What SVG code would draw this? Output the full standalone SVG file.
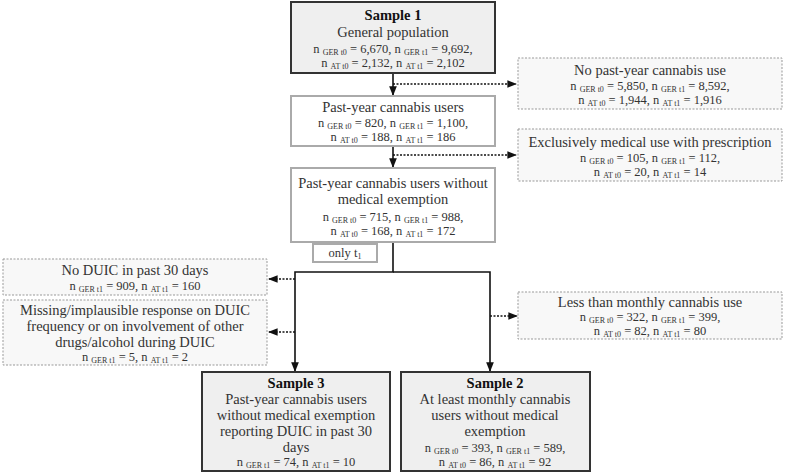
<svg xmlns="http://www.w3.org/2000/svg" width="785" height="474" viewBox="0 0 785 474" font-family="Liberation Serif, Tinos, Times New Roman, serif">
<defs>
<style>
text{font-family:Liberation Serif, Tinos, Times New Roman, serif;fill:#333;text-anchor:middle}
.t{font-size:14.5px}
.b{font-size:14.5px;font-weight:bold;fill:#111}
.n{font-size:12.5px}
.s{font-size:8px}
.main{fill:#efefef;stroke:#333;stroke-width:2}
.mid{fill:#fff;stroke:#aaa;stroke-width:2}
.dot{fill:#f8f8f8;stroke:#999;stroke-width:1;stroke-dasharray:2,1.5}
.ln{fill:none;stroke:#111;stroke-width:1.6}
.dl{fill:none;stroke:#111;stroke-width:1.6;stroke-dasharray:2,1.5}
</style>
<marker id="a" viewBox="0 0 10 10" refX="9" refY="5" markerWidth="6" markerHeight="6" orient="auto"><path d="M0,1L10,5L0,9z" fill="#111"/></marker>
</defs>
<g id="connectors">
<path class="ln" d="M393,73V95" marker-end="url(#a)"/>
<path class="dl" d="M393,84H516" marker-end="url(#a)"/>
<path class="ln" d="M393,146V167" marker-end="url(#a)"/>
<path class="dl" d="M393,155H516" marker-end="url(#a)"/>
<path class="ln" d="M393,242V272H295V371" marker-end="url(#a)"/>
<path class="ln" d="M393,272H490V371" marker-end="url(#a)"/>
<path class="dl" d="M295,279H269" marker-end="url(#a)"/>
<path class="dl" d="M295,332H269" marker-end="url(#a)"/>
<path class="dl" d="M490,316H517" marker-end="url(#a)"/>
</g>
<g id="s1"><rect class="main" x="291" y="2" width="204" height="71"/>
<text class="b" x="393" y="20">Sample 1</text>
<text class="t" x="393" y="37">General population</text>
<text class="n" x="393" y="53">n <tspan class="s" dy="2">GER t0</tspan><tspan dy="-2"> = 6,670, n </tspan><tspan class="s" dy="2">GER t1</tspan><tspan dy="-2"> = 9,692,</tspan></text>
<text class="n" x="393" y="67">n <tspan class="s" dy="2">AT t0</tspan><tspan dy="-2"> = 2,132, n </tspan><tspan class="s" dy="2">AT t1</tspan><tspan dy="-2"> = 2,102</tspan></text></g>
<g id="pyu"><rect class="mid" x="291" y="96" width="204" height="50"/>
<text class="t" x="393" y="112">Past-year cannabis users</text>
<text class="n" x="393" y="127">n <tspan class="s" dy="2">GER t0</tspan><tspan dy="-2"> = 820, n </tspan><tspan class="s" dy="2">GER t1</tspan><tspan dy="-2"> = 1,100,</tspan></text>
<text class="n" x="393" y="141">n <tspan class="s" dy="2">AT t0</tspan><tspan dy="-2"> = 188, n </tspan><tspan class="s" dy="2">AT t1</tspan><tspan dy="-2"> = 186</tspan></text></g>
<g id="pyuw"><rect class="mid" x="291" y="168" width="204" height="74"/>
<text class="t" x="393" y="188">Past-year cannabis users without</text>
<text class="t" x="393" y="204">medical exemption</text>
<text class="n" x="393" y="221">n <tspan class="s" dy="2">GER t0</tspan><tspan dy="-2"> = 715, n </tspan><tspan class="s" dy="2">GER t1</tspan><tspan dy="-2"> = 988,</tspan></text>
<text class="n" x="393" y="235">n <tspan class="s" dy="2">AT t0</tspan><tspan dy="-2"> = 168, n </tspan><tspan class="s" dy="2">AT t1</tspan><tspan dy="-2"> = 172</tspan></text></g>
<g id="nouse"><rect class="dot" x="518" y="58" width="264" height="51"/>
<text class="t" x="650" y="75">No past-year cannabis use</text>
<text class="n" x="650" y="90">n <tspan class="s" dy="2">GER t0</tspan><tspan dy="-2"> = 5,850, n </tspan><tspan class="s" dy="2">GER t1</tspan><tspan dy="-2"> = 8,592,</tspan></text>
<text class="n" x="650" y="104">n <tspan class="s" dy="2">AT t0</tspan><tspan dy="-2"> = 1,944, n </tspan><tspan class="s" dy="2">AT t1</tspan><tspan dy="-2"> = 1,916</tspan></text></g>
<g id="med"><rect class="dot" x="518" y="129" width="264" height="52"/>
<text class="t" x="650" y="147">Exclusively medical use with prescription</text>
<text class="n" x="650" y="162">n <tspan class="s" dy="2">GER t0</tspan><tspan dy="-2"> = 105, n </tspan><tspan class="s" dy="2">GER t1</tspan><tspan dy="-2"> = 112,</tspan></text>
<text class="n" x="650" y="176">n <tspan class="s" dy="2">AT t0</tspan><tspan dy="-2"> = 20, n </tspan><tspan class="s" dy="2">AT t1</tspan><tspan dy="-2"> = 14</tspan></text></g>
<g id="only"><rect class="mid" x="313" y="244" width="64" height="18" stroke-width="1.5"/>
<text class="n" x="345" y="257">only t<tspan class="s" dy="2">1</tspan></text></g>
<g id="noduic"><rect class="dot" x="3" y="259" width="264" height="36"/>
<text class="t" x="135" y="275">No DUIC in past 30 days</text>
<text class="n" x="135" y="290">n <tspan class="s" dy="2">GER t1</tspan><tspan dy="-2"> = 909, n </tspan><tspan class="s" dy="2">AT t1</tspan><tspan dy="-2"> = 160</tspan></text></g>
<g id="missing"><rect class="dot" x="3" y="300" width="264" height="65"/>
<text class="t" x="135" y="315">Missing/implausible response on DUIC</text>
<text class="t" x="135" y="331">frequency or on involvement of other</text>
<text class="t" x="135" y="347">drugs/alcohol during DUIC</text>
<text class="n" x="135" y="361">n <tspan class="s" dy="2">GER t1</tspan><tspan dy="-2"> = 5, n </tspan><tspan class="s" dy="2">AT t1</tspan><tspan dy="-2"> = 2</tspan></text></g>
<g id="less"><rect class="dot" x="518" y="292" width="264" height="47"/>
<text class="t" x="650" y="307">Less than monthly cannabis use</text>
<text class="n" x="650" y="321">n <tspan class="s" dy="2">GER t0</tspan><tspan dy="-2"> = 322, n </tspan><tspan class="s" dy="2">GER t1</tspan><tspan dy="-2"> = 399,</tspan></text>
<text class="n" x="650" y="335">n <tspan class="s" dy="2">AT t0</tspan><tspan dy="-2"> = 82, n </tspan><tspan class="s" dy="2">AT t1</tspan><tspan dy="-2"> = 80</tspan></text></g>
<g id="s3"><rect class="main" x="202" y="372" width="188" height="99"/>
<text class="b" x="296" y="388">Sample 3</text>
<text class="t" x="296" y="404">Past-year cannabis users</text>
<text class="t" x="296" y="420">without medical exemption</text>
<text class="t" x="296" y="436">reporting DUIC in past 30</text>
<text class="t" x="296" y="452">days</text>
<text class="n" x="296" y="466">n <tspan class="s" dy="2">GER t1</tspan><tspan dy="-2"> = 74, n </tspan><tspan class="s" dy="2">AT t1</tspan><tspan dy="-2"> = 10</tspan></text></g>
<g id="s2"><rect class="main" x="401" y="372" width="189" height="99"/>
<text class="b" x="495" y="388">Sample 2</text>
<text class="t" x="495" y="404">At least monthly cannabis</text>
<text class="t" x="495" y="420">users without medical</text>
<text class="t" x="495" y="436">exemption</text>
<text class="n" x="495" y="452">n <tspan class="s" dy="2">GER t0</tspan><tspan dy="-2"> = 393, n </tspan><tspan class="s" dy="2">GER t1</tspan><tspan dy="-2"> = 589,</tspan></text>
<text class="n" x="495" y="466">n <tspan class="s" dy="2">AT t0</tspan><tspan dy="-2"> = 86, n </tspan><tspan class="s" dy="2">AT t1</tspan><tspan dy="-2"> = 92</tspan></text></g>
</svg>
